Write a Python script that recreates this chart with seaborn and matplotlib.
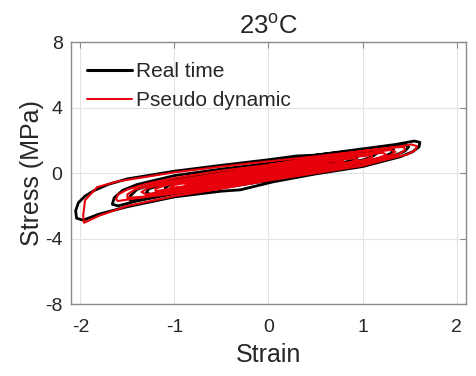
import matplotlib
matplotlib.use("Agg")
import matplotlib.pyplot as plt
import seaborn as sns
import pandas as pd

# ---- data ----
real_strain = [0.0, 0.5, 1.0, 1.35, 1.55, 1.61, 1.6, 1.53, 1.4, 1.0, 0.5, 0.05, -0.3, -0.5, -1.0, -1.5, -1.8, -1.97,
               -2.04, -2.05, -2.02, -1.95, -1.85, -1.7, -1.5, -1.0, -0.5, 0.0, 0.3, 0.5, 1.0, 1.3, 1.45, 1.49, 1.45,
               1.35, 1.0, 0.5, 0.0, -0.5, -1.0, -1.4, -1.6, -1.66, -1.64, -1.55, -1.4, -1.0, -0.5, 0.0, 0.5, 1.0,
               1.28, 1.33, 1.3, 1.2, 1.0, 0.5, 0.0, -0.5, -1.0, -1.35, -1.47, -1.47, -1.4, -1.3, -1.0, -0.5, 0.0,
               0.5, 0.9, 1.12, 1.15, 1.1, 1.0, 0.5, 0.0, -0.5, -1.0, -1.25, -1.3, -1.27, -1.15, -1.0, -0.5, 0.0,
               0.5, 0.85, 0.95, 0.93, 0.8, 0.5, 0.0, -0.5, -0.9, -1.08, -1.1, -1.05, -0.9, -0.5, 0.0, 0.5, 0.68,
               0.7, 0.6, 0.3, 0.0, -0.5, -0.8, -0.85, -0.78, -0.5, 0.0, 0.3, 0.45, 0.44, 0.3, 0.0, -0.4, -0.58,
               -0.6, -0.5, -0.2, 0.0, 0.25, 0.24, 0.0, -0.3, -0.35, -0.2]
real_stress = [0.6, 1.1, 1.48, 1.75, 1.96, 1.88, 1.6, 1.3, 1.0, 0.4, -0.05, -0.53, -1.02, -1.1, -1.45, -2.05, -2.5, -2.87,
               -2.75, -2.3, -1.8, -1.4, -1.05, -0.68, -0.35, 0.12, 0.48, 0.82, 1.05, 1.1, 1.42, 1.65, 1.75, 1.6, 1.35,
               1.1, 0.5, 0.05, -0.45, -0.9, -1.25, -1.7, -2.0, -1.9, -1.5, -1.05, -0.7, -0.15, 0.25, 0.6, 0.98, 1.3,
               1.55, 1.45, 1.2, 0.95, 0.6, 0.15, -0.3, -0.75, -1.1, -1.55, -1.65, -1.4, -1.0, -0.8, -0.4, 0.05, 0.45,
               0.85, 1.15, 1.3, 1.2, 1.0, 0.8, 0.25, -0.15, -0.6, -1.0, -1.3, -1.2, -0.95, -0.75, -0.55, -0.05, 0.35,
               0.75, 1.02, 1.05, 0.85, 0.65, 0.35, -0.05, -0.5, -0.9, -1.05, -0.9, -0.7, -0.55, -0.15, 0.3, 0.68, 0.85,
               0.7, 0.55, 0.3, 0.0, -0.45, -0.75, -0.62, -0.48, -0.2, 0.25, 0.5, 0.6, 0.48, 0.35, 0.05, -0.3, -0.45,
               -0.35, -0.22, 0.05, 0.2, 0.42, 0.32, 0.1, -0.15, -0.05, 0.08]

pseudo_strain = [0.0, 0.5, 1.0, 1.35, 1.52, 1.58, 1.56, 1.48, 1.3, 1.0, 0.5, 0.0, -0.5, -1.0, -1.5, -1.8, -1.96, -1.97,
                 -1.95, -1.82, -1.6, -1.0, -0.5, 0.0, 0.5, 1.0, 1.3, 1.44, 1.45, 1.38, 1.2, 1.0, 0.5, 0.0, -0.5, -1.0,
                 -1.3, -1.5, -1.6, -1.62, -1.6, -1.5, -1.3, -1.0, -0.5, 0.0, 0.5, 1.0, 1.3, 1.35, 1.3, 1.1, 0.5, 0.0,
                 -0.5, -1.0, -1.35, -1.5, -1.5, -1.42, -1.2, -1.0, -0.5, 0.0, 0.5, 1.0, 1.22, 1.25, 1.18, 1.0, 0.5,
                 0.0, -0.5, -1.0, -1.3, -1.35, -1.28, -1.1, -0.5, 0.0, 0.5, 0.9, 1.1, 1.1, 1.0, 0.5, 0.0, -0.5, -1.0,
                 -1.2, -1.2, -1.1, -0.5, 0.0, 0.5, 0.9, 0.95, 0.85, 0.5, 0.0, -0.5, -0.95, -1.05, -1.0, -0.5, 0.0, 0.5,
                 0.78, 0.8, 0.5, 0.0, -0.5, -0.85, -0.9, -0.5, 0.0, 0.5, 0.63, 0.6, 0.3, 0.0, -0.5, -0.72, -0.75, -0.5,
                 0.0, 0.45, 0.5, 0.0, -0.55, -0.6, 0.0, 0.35, 0.33, 0.0, -0.4, -0.45, 0.0, 0.2, 0.18, -0.3]
pseudo_stress = [0.5, 0.95, 1.35, 1.6, 1.75, 1.65, 1.4, 1.15, 0.9, 0.45, 0.0, -0.45, -0.95, -1.4, -2.0, -2.6, -3.03, -2.6,
                 -1.65, -0.85, -0.5, 0.05, 0.4, 0.72, 1.02, 1.35, 1.55, 1.6, 1.4, 1.15, 0.85, 0.55, 0.1, -0.35, -0.85,
                 -1.25, -1.45, -1.62, -1.7, -1.6, -1.3, -1.0, -0.65, -0.3, 0.15, 0.5, 0.88, 1.2, 1.42, 1.3, 1.1, 0.8,
                 0.2, -0.25, -0.72, -1.12, -1.45, -1.5, -1.3, -1.0, -0.65, -0.45, 0.0, 0.4, 0.78, 1.1, 1.25, 1.12,
                 0.95, 0.7, 0.25, -0.15, -0.6, -1.0, -1.3, -1.15, -0.9, -0.65, -0.1, 0.32, 0.7, 0.98, 1.1, 0.95, 0.78,
                 0.3, -0.08, -0.52, -0.92, -1.1, -0.95, -0.75, -0.15, 0.28, 0.65, 0.9, 0.8, 0.65, 0.35, 0.0, -0.45,
                 -0.85, -0.9, -0.72, -0.2, 0.22, 0.6, 0.78, 0.68, 0.4, 0.05, -0.38, -0.7, -0.62, -0.25, 0.18, 0.55,
                 0.63, 0.52, 0.3, 0.08, -0.33, -0.52, -0.45, -0.28, 0.15, 0.5, 0.42, 0.1, -0.35, -0.3, 0.14, 0.38, 0.3,
                 0.1, -0.2, -0.15, 0.13, 0.27, 0.2, -0.1]

series_names = ["Real time", "Pseudo dynamic"]
x_ticks = [-2, -1, 0, 1, 2]
y_ticks = [-8, -4, 0, 4, 8]
title_text = "23$^{\\rm o}$C"
x_label = "Strain"
y_label = "Stress (MPa)"

# ---- style ----
sns.set_style("whitegrid")
plt.rcParams["font.family"] = ["Liberation Sans", "DejaVu Sans"]
plt.rcParams["mathtext.fontset"] = "custom"
plt.rcParams["mathtext.rm"] = "Liberation Sans"

fig = plt.figure(figsize=(4.76, 3.76), dpi=100)
ax = fig.add_axes([0.149, 0.191, 0.830, 0.697])

df_real = pd.DataFrame({"strain": real_strain, "stress": real_stress})
df_pseudo = pd.DataFrame({"strain": pseudo_strain, "stress": pseudo_stress})

sns.lineplot(data=df_real, x="strain", y="stress", sort=False, estimator=None,
             color="black", linewidth=2.0, ax=ax, label=series_names[0])
sns.lineplot(data=df_pseudo, x="strain", y="stress", sort=False, estimator=None,
             color="#e8000b", linewidth=1.5, ax=ax, label=series_names[1])

ax.set_xlim(-2.1, 2.1)
ax.set_ylim(-8, 8)
ax.set_xticks(x_ticks)
ax.set_yticks(y_ticks)
ax.set_xticklabels([str(t) for t in x_ticks])
ax.set_yticklabels([str(t) for t in y_ticks])
ax.grid(True, color="#e3e3e3", linewidth=0.8)
for s in ax.spines.values():
    s.set_color("#8a8a8a")
    s.set_linewidth(1.0)
ax.tick_params(direction="in", length=4, width=0.8, color="#8a8a8a",
               top=True, right=True, labelsize=14, labelcolor="#262626")
ax.tick_params(axis="x", pad=11)
ax.tick_params(axis="y", pad=6)

ax.set_title(title_text, fontsize=18.5, color="#262626", pad=6)
ax.set_xlabel(x_label, fontsize=18, color="#262626", labelpad=5)
ax.set_ylabel(y_label, fontsize=18, color="#262626", labelpad=1)

leg = ax.legend(loc="upper left", bbox_to_anchor=(0.0, 0.985), frameon=False, fontsize=15,
                handlelength=2.15, handletextpad=0.2, labelspacing=0.48,
                borderaxespad=0.4, borderpad=0.37)
for h, lw in zip(leg.get_lines(), [2.2, 1.4]):
    h.set_linewidth(lw)

fig.savefig("out.png", dpi=100)
